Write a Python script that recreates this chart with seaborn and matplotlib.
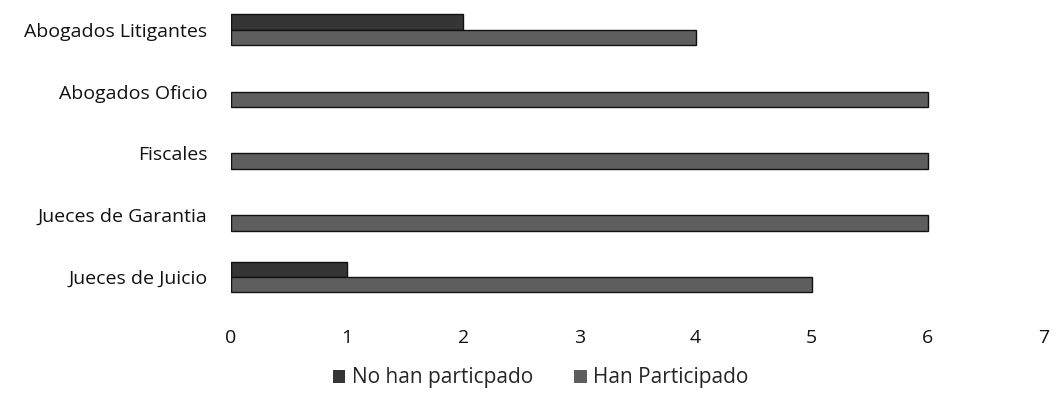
import matplotlib
matplotlib.use("Agg")
import matplotlib.pyplot as plt
import seaborn as sns
import pandas as pd

categories = ["Abogados Litigantes", "Abogados Oficio", "Fiscales",
              "Jueces de Garantia", "Jueces de Juicio"]
no_han = [2, 0, 0, 0, 1]
han = [4, 6, 6, 6, 5]
series = ["No han particpado", "Han Participado"]

df = pd.DataFrame({
    "cat": categories * 2,
    "val": no_han + han,
    "serie": [series[0]] * len(categories) + [series[1]] * len(categories),
})

sns.set_theme(style="white")
plt.rcParams["font.family"] = ["Open Sans", "DejaVu Sans"]

fig = plt.figure(figsize=(10.52, 4.0), dpi=100)
ax = fig.add_axes([231/1052, 1 - 311/400, (1044-231)/1052, 311/400])

palette = {series[0]: "#353535", series[1]: "#5e5e5e"}
sns.barplot(data=df, x="val", y="cat", hue="serie", order=categories,
            hue_order=series, palette=palette, width=0.5, orient="h",
            edgecolor="#111111", linewidth=1.0, saturation=1, ax=ax, legend=True)

for p in ax.patches:
    if p.get_width() == 0:
        p.set_linewidth(0)

ax.set_xlim(0, 7)
ax.set_ylim(4.55, -0.48)
ax.set_xticks(range(0, 8))
ax.set_xlabel("")
ax.set_ylabel("")
for s in ax.spines.values():
    s.set_visible(False)
ax.tick_params(axis="x", length=0, pad=13, labelsize=14, colors="#111111")
ax.tick_params(axis="y", length=0, pad=17, labelsize=14, colors="#111111")

h, l = ax.get_legend_handles_labels()
ax.get_legend().remove()
fig.legend(h, l, loc="center", bbox_to_anchor=(0.514, 0.055), ncol=2,
           frameon=False, fontsize=15, handlelength=0.6, handleheight=0.6,
           columnspacing=2.0, handletextpad=0.3)

fig.savefig("out.png", dpi=100)
